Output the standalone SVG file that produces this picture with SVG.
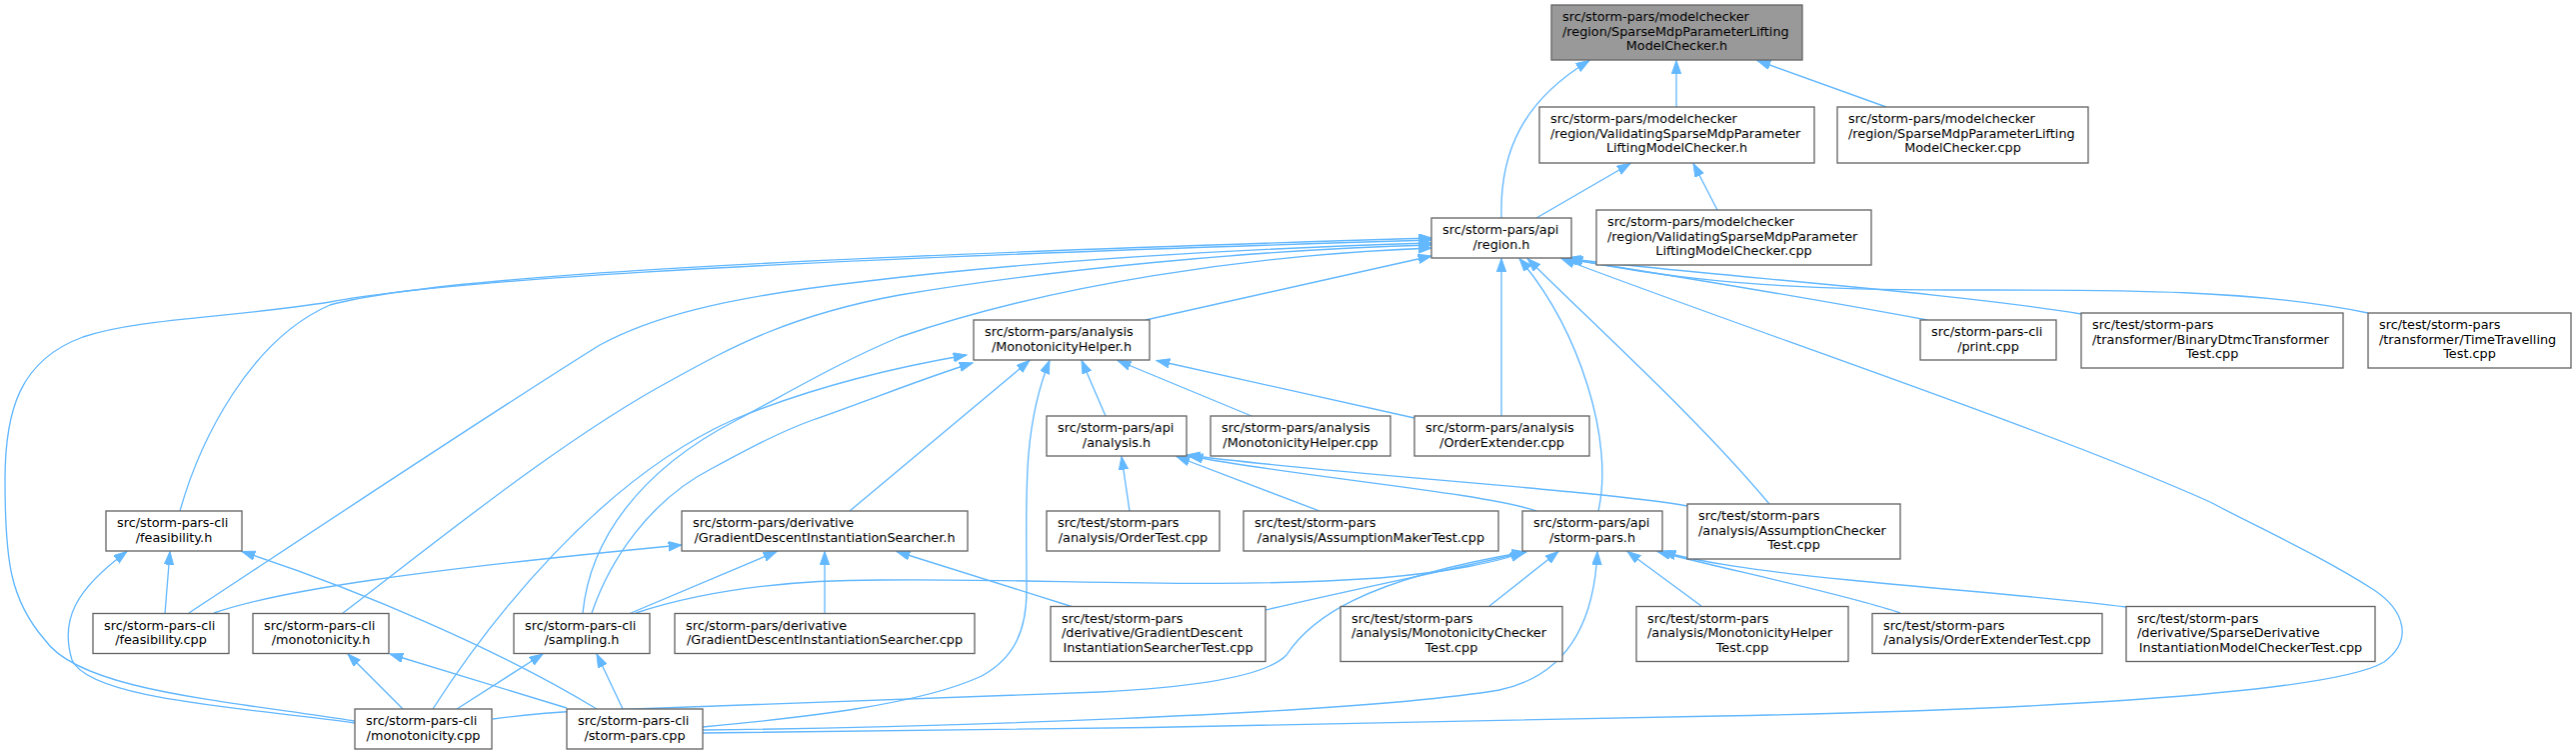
<svg xmlns="http://www.w3.org/2000/svg" width="2577" height="755" viewBox="0 0 2577 755">
<style>
.n rect{fill:#ffffff;stroke:#666666;stroke-width:1.33}
.n.root rect{fill:#999999}
.n text{font-family:"DejaVu Sans","Liberation Sans",sans-serif;font-size:12.8px;fill:#000000}
.n text.m{text-anchor:middle}
#edges path{fill:none;stroke:#63b8ff;stroke-width:1.33;marker-end:url(#arr)}
</style>
<defs>
<marker id="arr" markerUnits="userSpaceOnUse" markerWidth="14" markerHeight="10" refX="13.3" refY="4.7" orient="auto">
<path d="M0,0 L13.3,4.7 L0,9.4 z" fill="#63b8ff" stroke="#63b8ff" stroke-width="1"/>
</marker>
</defs>
<rect width="2577" height="755" fill="#ffffff"/>
<g id="edges">
<path d="M1677,107 L1677,60.5"/>
<path d="M1887,107 L1758,60.5"/>
<path d="M1502,218 C1500,150 1525,100 1590,60.5"/>
<path d="M1537,218 L1631,163.5"/>
<path d="M1718,210 L1694,163.5"/>
<path d="M1146,320 L1432,256"/>
<path d="M1928,320 C1820,300 1650,272 1565,258.5"/>
<path d="M2082,314 C1950,292 1700,275 1568,258.5"/>
<path d="M2369,313 C2250,288 2100,290 1950,290 C1750,290 1650,275 1570,258.5"/>
<path d="M1502,416 L1502,258.5"/>
<path d="M1599,511 C1615,440 1580,330 1520,258.5"/>
<path d="M1770,504 C1700,420 1600,330 1528,258.5"/>
<path d="M703,733 C1000,731 1500,722 1720,716 C2000,711 2330,695 2385,662 C2415,640 2405,610 2375,590 C2320,555 2260,528 2211,502 C2050,430 1750,330 1562,258.5"/>
<path d="M180,511 C200,440 250,340 330,305 C420,280 700,260 1432,238"/>
<path d="M355,721 C220,700 80,690 45,640 C10,600 5,560 5,480 C5,410 20,360 83,337 C140,318 230,318 330,302 C430,283 700,262 1432,240"/>
<path d="M189,613 C300,540 480,420 600,345 C650,318 720,298 860,282 C1000,265 1200,250 1432,243"/>
<path d="M343,613 C420,555 560,440 672,380 C730,348 790,315 900,295 C1050,270 1250,250 1432,245"/>
<path d="M583,613 C590,540 640,470 737,420 C790,392 840,362 900,337 C1050,285 1250,255 1432,248"/>
<path d="M433,709 C490,620 600,480 733,420 C800,392 880,370 967,355"/>
<path d="M592,613 C610,560 650,500 713,468 C750,448 780,432 813,420 C870,400 930,376 973,363"/>
<path d="M703,727 C800,718 920,705 982,676 C1015,658 1027,630 1027,590 C1027,500 1022,430 1050,360.5"/>
<path d="M493,719 C530,714 555,712 580,711 C700,708 900,700 1100,692 C1180,688 1265,678 1287,655 C1310,620 1360,580 1526,552"/>
<path d="M703,730 C900,728 1350,715 1500,690 C1570,675 1595,620 1598,551.5"/>
<path d="M636,613 C700,592 780,580 880,580 C1050,578 1200,590 1380,578 C1450,572 1500,562 1524,552"/>
<path d="M1266,610 C1350,590 1450,570 1527,552"/>
<path d="M1490,606 L1559,551.5"/>
<path d="M1702,606 L1628,551.5"/>
<path d="M1901,613 C1850,595 1720,568 1658,551.5"/>
<path d="M2127,607 C2050,597 1950,590 1850,580 C1750,570 1700,562 1663,551.5"/>
<path d="M1537,511 C1480,492 1300,477 1190,456"/>
<path d="M1688,506 C1600,490 1330,474 1187,455"/>
<path d="M1130,511 L1122,456.5"/>
<path d="M1320,511 L1177,456.5"/>
<path d="M1106,416 L1082,360.5"/>
<path d="M1252,416 L1118,360.5"/>
<path d="M1415,418 L1157,360.5"/>
<path d="M850,511 L1030,360.5"/>
<path d="M214,613 C280,590 420,570 682,545"/>
<path d="M630,613.5 L777,551.5"/>
<path d="M825,613.5 L825,551.5"/>
<path d="M1072,606.5 L897,551.5"/>
<path d="M165,613.5 L170,551.5"/>
<path d="M355,723 C250,708 90,700 72,660 C60,620 75,590 127,551.5"/>
<path d="M597,709 C500,650 360,590 242,551.5"/>
<path d="M403,709 L348,654"/>
<path d="M567,708 L390,654"/>
<path d="M457,709 L543,654"/>
<path d="M623,709 L597,654"/>
</g>
<g id="root" class="n root"><rect x="1552" y="5" width="251" height="55"/><text x="1563" y="21.2">src/storm-pars/modelchecker</text><text x="1563" y="35.7">/region/SparseMdpParameterLifting</text><text class="m" x="1677.5" y="50.2">ModelChecker.h</text></g>
<g id="validH" class="n"><rect x="1540" y="107" width="275" height="56"/><text x="1551" y="123.2">src/storm-pars/modelchecker</text><text x="1551" y="137.7">/region/ValidatingSparseMdpParameter</text><text class="m" x="1677.5" y="152.2">LiftingModelChecker.h</text></g>
<g id="sparseCpp" class="n"><rect x="1838" y="107" width="251" height="56"/><text x="1849" y="123.2">src/storm-pars/modelchecker</text><text x="1849" y="137.7">/region/SparseMdpParameterLifting</text><text class="m" x="1963.5" y="152.2">ModelChecker.cpp</text></g>
<g id="regionH" class="n"><rect x="1432" y="218" width="140" height="40"/><text x="1443" y="234.3">src/storm-pars/api</text><text class="m" x="1502" y="248.8">/region.h</text></g>
<g id="validCpp" class="n"><rect x="1597" y="210" width="275" height="55"/><text x="1608" y="226.2">src/storm-pars/modelchecker</text><text x="1608" y="240.7">/region/ValidatingSparseMdpParameter</text><text class="m" x="1734.5" y="255.2">LiftingModelChecker.cpp</text></g>
<g id="mhH" class="n"><rect x="974" y="320" width="176" height="40"/><text x="985" y="336.3">src/storm-pars/analysis</text><text class="m" x="1062" y="350.8">/MonotonicityHelper.h</text></g>
<g id="printCpp" class="n"><rect x="1921" y="320" width="136" height="40"/><text x="1932" y="336.3">src/storm-pars-cli</text><text class="m" x="1989" y="350.8">/print.cpp</text></g>
<g id="binaryTest" class="n"><rect x="2082" y="313" width="262" height="55"/><text x="2093" y="329.2">src/test/storm-pars</text><text x="2093" y="343.7">/transformer/BinaryDtmcTransformer</text><text class="m" x="2213" y="358.2">Test.cpp</text></g>
<g id="timeTest" class="n"><rect x="2369" y="313" width="203" height="55"/><text x="2380" y="329.2">src/test/storm-pars</text><text x="2380" y="343.7">/transformer/TimeTravelling</text><text class="m" x="2470.5" y="358.2">Test.cpp</text></g>
<g id="analysisH" class="n"><rect x="1047" y="416" width="140" height="40"/><text x="1058" y="432.3">src/storm-pars/api</text><text class="m" x="1117" y="446.8">/analysis.h</text></g>
<g id="mhCpp" class="n"><rect x="1211" y="416" width="180" height="40"/><text x="1222" y="432.3">src/storm-pars/analysis</text><text class="m" x="1301" y="446.8">/MonotonicityHelper.cpp</text></g>
<g id="oeCpp" class="n"><rect x="1415" y="416" width="175" height="40"/><text x="1426" y="432.3">src/storm-pars/analysis</text><text class="m" x="1502.5" y="446.8">/OrderExtender.cpp</text></g>
<g id="feasH" class="n"><rect x="106" y="511" width="136" height="40"/><text x="117" y="527.3">src/storm-pars-cli</text><text class="m" x="174" y="541.8">/feasibility.h</text></g>
<g id="gdisH" class="n"><rect x="682" y="511" width="286" height="40"/><text x="693" y="527.3">src/storm-pars/derivative</text><text class="m" x="825" y="541.8">/GradientDescentInstantiationSearcher.h</text></g>
<g id="orderTest" class="n"><rect x="1047" y="511" width="173" height="40"/><text x="1058" y="527.3">src/test/storm-pars</text><text class="m" x="1133.5" y="541.8">/analysis/OrderTest.cpp</text></g>
<g id="amTest" class="n"><rect x="1244" y="511" width="255" height="40"/><text x="1255" y="527.3">src/test/storm-pars</text><text class="m" x="1371.5" y="541.8">/analysis/AssumptionMakerTest.cpp</text></g>
<g id="spH" class="n"><rect x="1523" y="511" width="140" height="40"/><text x="1534" y="527.3">src/storm-pars/api</text><text class="m" x="1593" y="541.8">/storm-pars.h</text></g>
<g id="acTest" class="n"><rect x="1688" y="504" width="213" height="55"/><text x="1699" y="520.2">src/test/storm-pars</text><text x="1699" y="534.7">/analysis/AssumptionChecker</text><text class="m" x="1794.5" y="549.2">Test.cpp</text></g>
<g id="feasCpp" class="n"><rect x="93" y="613.5" width="136" height="40"/><text x="104" y="629.8">src/storm-pars-cli</text><text class="m" x="161" y="644.3">/feasibility.cpp</text></g>
<g id="monoH" class="n"><rect x="253" y="613.5" width="136" height="40"/><text x="264" y="629.8">src/storm-pars-cli</text><text class="m" x="321" y="644.3">/monotonicity.h</text></g>
<g id="samplingH" class="n"><rect x="514" y="613.5" width="136" height="40"/><text x="525" y="629.8">src/storm-pars-cli</text><text class="m" x="582" y="644.3">/sampling.h</text></g>
<g id="gdisCpp" class="n"><rect x="675" y="613.5" width="300" height="40"/><text x="686" y="629.8">src/storm-pars/derivative</text><text class="m" x="825" y="644.3">/GradientDescentInstantiationSearcher.cpp</text></g>
<g id="gdisTest" class="n"><rect x="1051" y="606.5" width="215" height="55"/><text x="1062" y="622.7">src/test/storm-pars</text><text x="1062" y="637.2">/derivative/GradientDescent</text><text class="m" x="1158.5" y="651.7">InstantiationSearcherTest.cpp</text></g>
<g id="mcTest" class="n"><rect x="1341" y="606.5" width="222" height="55"/><text x="1352" y="622.7">src/test/storm-pars</text><text x="1352" y="637.2">/analysis/MonotonicityChecker</text><text class="m" x="1452" y="651.7">Test.cpp</text></g>
<g id="mhTest" class="n"><rect x="1637" y="606.5" width="212" height="55"/><text x="1648" y="622.7">src/test/storm-pars</text><text x="1648" y="637.2">/analysis/MonotonicityHelper</text><text class="m" x="1743" y="651.7">Test.cpp</text></g>
<g id="oeTest" class="n"><rect x="1873" y="613.5" width="230" height="40"/><text x="1884" y="629.8">src/test/storm-pars</text><text class="m" x="1988" y="644.3">/analysis/OrderExtenderTest.cpp</text></g>
<g id="sdTest" class="n"><rect x="2127" y="606.5" width="249" height="55"/><text x="2138" y="622.7">src/test/storm-pars</text><text x="2138" y="637.2">/derivative/SparseDerivative</text><text class="m" x="2251.5" y="651.7">InstantiationModelCheckerTest.cpp</text></g>
<g id="monoCpp" class="n"><rect x="355" y="709" width="137" height="40"/><text x="366" y="725.3">src/storm-pars-cli</text><text class="m" x="423.5" y="739.8">/monotonicity.cpp</text></g>
<g id="spCpp" class="n"><rect x="567" y="709" width="136" height="40"/><text x="578" y="725.3">src/storm-pars-cli</text><text class="m" x="635" y="739.8">/storm-pars.cpp</text></g>
</svg>
